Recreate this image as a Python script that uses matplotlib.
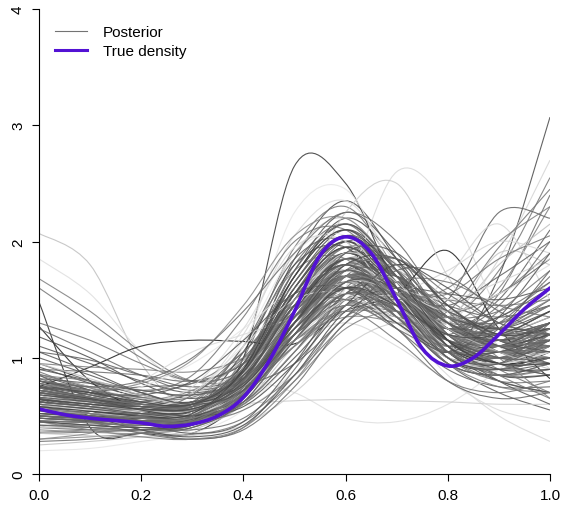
import numpy as np
import matplotlib
matplotlib.use("Agg")
import matplotlib.pyplot as plt
from matplotlib.path import Path
from matplotlib.patches import PathPatch
from matplotlib.lines import Line2D

plt.rcParams['font.family'] = ['Liberation Sans', 'DejaVu Sans']

x_post = [0.0, 0.1, 0.2, 0.3, 0.4, 0.5, 0.6, 0.7, 0.8, 0.9, 1.0]

posterior = [
    [0.60, 0.55, 0.50, 0.48, 0.75, 1.45, 1.85, 1.55, 1.10, 1.05, 1.25],
    [0.75, 0.65, 0.55, 0.52, 0.80, 1.50, 1.90, 1.60, 1.20, 1.15, 1.30],
    [0.50, 0.48, 0.45, 0.45, 0.70, 1.35, 1.75, 1.45, 1.05, 0.95, 1.10],
    [0.85, 0.75, 0.62, 0.55, 0.78, 1.40, 1.80, 1.55, 1.25, 1.20, 1.35],
    [0.65, 0.58, 0.52, 0.50, 0.85, 1.60, 2.05, 1.70, 1.20, 1.00, 1.05],
    [0.40, 0.40, 0.42, 0.45, 0.70, 1.30, 1.70, 1.50, 1.15, 1.10, 1.25],
    [0.95, 0.80, 0.65, 0.60, 0.80, 1.30, 1.65, 1.50, 1.25, 1.20, 1.40],
    [0.70, 0.62, 0.55, 0.55, 0.90, 1.65, 2.10, 1.75, 1.25, 1.10, 1.15],
    [0.55, 0.52, 0.50, 0.52, 0.82, 1.50, 1.95, 1.70, 1.30, 1.20, 1.30],
    [0.80, 0.70, 0.60, 0.58, 0.85, 1.50, 1.85, 1.50, 1.05, 0.90, 0.95],
    [0.62, 0.56, 0.48, 0.46, 0.72, 1.40, 1.90, 1.75, 1.35, 1.25, 1.45],
    [0.30, 0.32, 0.35, 0.40, 0.65, 1.20, 1.60, 1.45, 1.15, 1.05, 1.15],
    [1.00, 0.85, 0.70, 0.62, 0.85, 1.45, 1.80, 1.55, 1.20, 1.05, 1.10],
    [0.72, 0.65, 0.58, 0.56, 0.88, 1.60, 2.00, 1.60, 1.10, 0.95, 1.00],
    [0.58, 0.55, 0.52, 0.55, 0.80, 1.35, 1.65, 1.45, 1.25, 1.30, 1.55],
    [0.45, 0.45, 0.45, 0.48, 0.78, 1.50, 2.00, 1.80, 1.35, 1.15, 1.10],
    [0.88, 0.72, 0.60, 0.55, 0.75, 1.30, 1.70, 1.55, 1.30, 1.35, 1.65],
    [0.66, 0.60, 0.55, 0.58, 0.95, 1.70, 2.20, 1.85, 1.30, 1.10, 1.15],
    [0.50, 0.50, 0.48, 0.50, 0.75, 1.30, 1.65, 1.40, 1.00, 0.90, 1.00],
    [0.78, 0.68, 0.60, 0.60, 0.90, 1.55, 1.90, 1.60, 1.20, 1.10, 1.20],
    [0.35, 0.36, 0.38, 0.42, 0.68, 1.30, 1.80, 1.70, 1.30, 1.10, 1.00],
    [0.92, 0.78, 0.66, 0.62, 0.88, 1.50, 1.85, 1.55, 1.15, 1.00, 1.05],
    [0.60, 0.58, 0.55, 0.56, 0.80, 1.40, 1.80, 1.65, 1.35, 1.30, 1.45],
    [0.70, 0.60, 0.50, 0.47, 0.70, 1.35, 1.85, 1.70, 1.25, 1.05, 1.10],
    [0.55, 0.50, 0.45, 0.45, 0.75, 1.45, 1.90, 1.55, 1.05, 0.85, 0.85],
    [0.82, 0.70, 0.58, 0.54, 0.80, 1.45, 1.90, 1.70, 1.30, 1.20, 1.30],
    [0.48, 0.46, 0.45, 0.50, 0.85, 1.55, 1.95, 1.65, 1.20, 1.05, 1.10],
    [0.68, 0.62, 0.58, 0.60, 0.88, 1.45, 1.75, 1.50, 1.20, 1.20, 1.40],
    [0.40, 0.38, 0.38, 0.42, 0.72, 1.40, 1.85, 1.60, 1.15, 0.95, 0.95],
    [0.75, 0.66, 0.60, 0.62, 0.95, 1.65, 2.05, 1.70, 1.25, 1.15, 1.30],
    [0.65, 0.58, 0.50, 0.50, 0.90, 1.85, 2.35, 1.85, 1.15, 0.85, 0.85],
    [0.55, 0.50, 0.48, 0.52, 1.00, 1.95, 2.30, 1.75, 1.10, 0.95, 1.10],
    [0.70, 0.62, 0.55, 0.58, 1.05, 1.90, 2.20, 1.70, 1.20, 1.10, 1.20],
    [0.85, 0.72, 0.60, 0.55, 0.90, 1.75, 2.25, 1.90, 1.30, 1.05, 1.00],
    [0.50, 0.48, 0.46, 0.50, 0.95, 1.80, 2.15, 1.70, 1.20, 1.10, 1.25],
    [0.62, 0.58, 0.55, 0.58, 0.80, 1.20, 1.45, 1.35, 1.15, 1.10, 1.20],
    [0.45, 0.45, 0.48, 0.55, 0.78, 1.15, 1.40, 1.35, 1.20, 1.15, 1.20],
    [0.80, 0.70, 0.62, 0.62, 0.82, 1.20, 1.50, 1.45, 1.25, 1.15, 1.15],
    [0.70, 0.64, 0.60, 0.62, 0.82, 1.15, 1.35, 1.30, 1.15, 1.05, 1.00],
    [0.55, 0.52, 0.50, 0.52, 0.72, 1.10, 1.40, 1.40, 1.25, 1.20, 1.30],
    [0.60, 0.55, 0.50, 0.55, 1.05, 1.80, 1.95, 1.45, 1.00, 0.95, 1.05],
    [0.70, 0.62, 0.56, 0.62, 1.10, 1.75, 1.85, 1.35, 1.00, 1.00, 1.10],
    [0.50, 0.48, 0.50, 0.60, 1.10, 1.85, 2.00, 1.40, 0.95, 0.85, 0.90],
    [0.65, 0.60, 0.55, 0.52, 0.68, 1.15, 1.70, 1.85, 1.45, 1.15, 1.05],
    [0.55, 0.52, 0.48, 0.48, 0.62, 1.05, 1.60, 1.80, 1.50, 1.25, 1.15],
    [0.78, 0.68, 0.58, 0.55, 0.70, 1.15, 1.65, 1.75, 1.40, 1.20, 1.20],
    [0.62, 0.56, 0.52, 0.52, 0.78, 1.35, 1.70, 1.50, 1.25, 1.50, 2.10],
    [0.70, 0.62, 0.55, 0.55, 0.85, 1.45, 1.75, 1.45, 1.20, 1.55, 2.40],
    [0.50, 0.48, 0.48, 0.50, 0.75, 1.30, 1.65, 1.45, 1.30, 1.60, 2.30],
    [0.80, 0.70, 0.60, 0.58, 0.82, 1.40, 1.80, 1.55, 1.35, 1.75, 2.55],
    [0.58, 0.54, 0.50, 0.50, 0.80, 1.45, 1.80, 1.40, 1.05, 1.70, 3.07],
    [0.65, 0.58, 0.52, 0.52, 0.80, 1.40, 1.75, 1.50, 1.30, 1.85, 2.70],
    [0.60, 0.55, 0.50, 0.52, 0.80, 1.40, 1.70, 1.40, 1.50, 2.25, 2.20],
    [0.72, 0.64, 0.58, 0.58, 0.85, 1.35, 1.60, 1.40, 1.35, 1.80, 2.15],
    [0.55, 0.52, 0.50, 0.52, 0.78, 1.35, 1.70, 1.40, 0.95, 0.70, 0.55],
    [0.40, 0.40, 0.42, 0.48, 0.75, 1.30, 1.60, 1.30, 0.85, 0.50, 0.28],
    [0.65, 0.60, 0.55, 0.55, 0.80, 1.30, 1.60, 1.40, 1.00, 0.80, 0.70],
    [0.48, 0.45, 0.42, 0.45, 0.70, 1.25, 1.55, 1.25, 0.90, 0.75, 0.75],
    [2.07, 1.80, 0.95, 0.55, 0.70, 1.30, 1.70, 1.45, 1.10, 1.00, 1.15],
    [1.85, 1.55, 1.05, 0.75, 0.85, 1.40, 1.80, 1.50, 1.15, 1.05, 1.20],
    [1.68, 1.40, 1.05, 0.80, 0.85, 1.35, 1.75, 1.55, 1.20, 1.10, 1.20],
    [1.60, 1.30, 1.00, 0.80, 0.90, 1.40, 1.80, 1.55, 1.15, 1.00, 1.05],
    [1.48, 0.40, 0.35, 0.35, 0.65, 1.30, 1.75, 1.55, 1.15, 1.05, 1.15],
    [1.27, 0.80, 0.55, 0.50, 0.75, 1.40, 1.85, 1.55, 1.10, 0.95, 1.00],
    [0.75, 0.92, 1.10, 1.15, 1.14, 1.12, 1.40, 1.55, 1.92, 1.25, 0.82],
    [0.45, 0.42, 0.40, 0.45, 1.00, 2.65, 2.50, 1.60, 1.00, 0.90, 1.05],
    [0.55, 0.50, 0.45, 0.45, 0.55, 0.90, 1.60, 2.60, 2.30, 1.40, 0.90],
    [0.65, 0.60, 0.55, 0.55, 0.75, 1.40, 2.25, 2.50, 1.70, 1.10, 0.95],
    [0.70, 0.62, 0.55, 0.60, 1.10, 2.25, 2.45, 1.70, 1.10, 0.95, 1.05],
    [0.85, 0.75, 0.65, 0.70, 1.20, 2.05, 2.35, 1.80, 1.20, 1.05, 1.15],
    [0.50, 0.52, 0.58, 0.68, 0.80, 0.70, 0.48, 0.45, 0.60, 0.90, 1.25],
    [0.40, 0.42, 0.45, 0.50, 0.60, 0.63, 0.64, 0.63, 0.62, 0.60, 0.60],
    [0.20, 0.22, 0.28, 0.35, 0.55, 1.00, 1.40, 1.35, 1.10, 0.95, 0.95],
    [0.25, 0.28, 0.32, 0.38, 0.60, 1.10, 1.45, 1.30, 1.00, 0.90, 0.90],
    [0.60, 0.55, 0.50, 0.50, 0.70, 1.10, 1.30, 1.10, 0.80, 0.55, 0.45],
    [0.58, 0.52, 0.48, 0.48, 0.70, 1.20, 1.45, 1.30, 1.40, 1.95, 2.45],
    [0.60, 0.55, 0.50, 0.50, 0.75, 1.30, 1.60, 1.30, 1.30, 1.90, 1.80],
    [0.60, 0.55, 0.50, 0.52, 0.75, 1.25, 1.50, 1.30, 1.70, 2.15, 1.50],
    [0.66, 0.60, 0.55, 0.55, 0.80, 1.40, 1.80, 1.60, 1.40, 1.55, 1.85],
    [0.52, 0.50, 0.48, 0.50, 0.78, 1.45, 1.85, 1.55, 1.20, 1.30, 1.70],
    [0.74, 0.66, 0.58, 0.56, 0.80, 1.40, 1.75, 1.50, 1.25, 1.35, 1.60],
    [0.60, 0.56, 0.52, 0.52, 0.76, 1.35, 1.75, 1.55, 1.15, 0.90, 0.70],
    [0.42, 0.42, 0.44, 0.48, 0.74, 1.35, 1.80, 1.65, 1.30, 1.00, 0.65],
    [0.68, 0.62, 0.56, 0.54, 0.80, 1.45, 1.90, 1.65, 1.25, 1.25, 1.50],
    [1.25, 1.05, 0.85, 0.72, 0.85, 1.35, 1.70, 1.50, 1.20, 1.10, 1.20],
    [1.10, 0.95, 0.80, 0.70, 0.82, 1.30, 1.70, 1.50, 1.15, 1.05, 1.15],
    [1.30, 1.15, 0.95, 0.80, 0.90, 1.40, 1.75, 1.45, 1.10, 1.05, 1.25],
    [1.05, 0.98, 0.85, 0.75, 0.85, 1.35, 1.75, 1.60, 1.30, 1.20, 1.25],
    [1.18, 1.00, 0.78, 0.65, 0.82, 1.45, 1.90, 1.60, 1.15, 1.00, 1.05],
    [0.50, 0.45, 0.40, 0.38, 0.48, 0.85, 1.35, 1.55, 1.40, 1.20, 1.10],
    [0.45, 0.40, 0.36, 0.34, 0.45, 0.80, 1.25, 1.40, 1.25, 1.10, 1.10],
    [0.35, 0.33, 0.32, 0.33, 0.42, 0.70, 1.10, 1.30, 1.20, 1.05, 1.00],
    [0.90, 0.88, 0.85, 0.80, 0.95, 1.40, 1.70, 1.45, 1.10, 1.00, 1.10],
    [0.95, 0.92, 0.90, 0.88, 1.00, 1.35, 1.60, 1.40, 1.10, 0.95, 0.95],
    [0.62, 0.70, 0.75, 0.78, 0.95, 1.40, 1.70, 1.50, 1.15, 1.05, 1.15],
    [0.40, 0.50, 0.60, 0.70, 0.90, 1.35, 1.65, 1.45, 1.20, 1.20, 1.35],
    [0.30, 0.35, 0.45, 0.60, 0.85, 1.30, 1.60, 1.40, 1.10, 1.00, 1.05],
    [0.85, 0.65, 0.45, 0.35, 0.45, 0.95, 1.55, 1.70, 1.35, 1.05, 0.95],
    [0.75, 0.55, 0.38, 0.30, 0.40, 0.90, 1.50, 1.60, 1.30, 1.10, 1.10],
    [0.65, 0.50, 0.38, 0.32, 0.42, 0.85, 1.40, 1.55, 1.35, 1.25, 1.40],
    [0.55, 0.45, 0.35, 0.30, 0.38, 0.75, 1.30, 1.50, 1.35, 1.20, 1.20],
    [0.45, 0.38, 0.32, 0.30, 0.40, 0.80, 1.35, 1.45, 1.20, 1.05, 1.05],
    [0.70, 0.65, 0.62, 0.70, 1.00, 1.50, 1.70, 1.35, 0.95, 0.85, 0.95],
    [0.80, 0.75, 0.72, 0.78, 1.05, 1.55, 1.75, 1.40, 1.00, 0.90, 1.00],
    [0.55, 0.60, 0.80, 1.05, 1.20, 1.35, 1.55, 1.45, 1.15, 1.00, 1.05],
    [0.60, 0.62, 0.75, 0.95, 1.25, 1.60, 1.75, 1.45, 1.10, 1.00, 1.10],
    [0.50, 0.55, 0.62, 0.72, 0.98, 1.55, 1.95, 1.60, 1.05, 0.85, 0.90],
    [0.68, 0.60, 0.52, 0.50, 0.62, 1.05, 1.55, 1.65, 1.45, 1.35, 1.45],
    [0.72, 0.66, 0.60, 0.58, 0.72, 1.10, 1.50, 1.60, 1.50, 1.45, 1.50],
    [0.58, 0.55, 0.50, 0.48, 0.60, 1.00, 1.45, 1.60, 1.55, 1.50, 1.60],
    [0.62, 0.58, 0.55, 0.55, 0.72, 1.20, 1.65, 1.65, 1.40, 1.55, 1.90],
    [0.48, 0.46, 0.45, 0.48, 0.70, 1.20, 1.60, 1.55, 1.35, 1.40, 1.65],
    [0.90, 0.80, 0.68, 0.62, 0.80, 1.30, 1.70, 1.60, 1.35, 1.25, 1.25],
    [0.38, 0.36, 0.35, 0.40, 0.60, 1.05, 1.45, 1.40, 1.20, 1.15, 1.30],
    [0.58, 0.54, 0.50, 0.50, 0.68, 1.15, 1.55, 1.45, 1.15, 0.95, 0.85],
    [0.52, 0.50, 0.48, 0.52, 0.80, 1.40, 1.80, 1.50, 1.05, 0.80, 0.70],
    [0.65, 0.60, 0.55, 0.55, 0.75, 1.30, 1.75, 1.55, 1.10, 0.85, 0.65],
    [0.75, 0.68, 0.60, 0.60, 0.85, 1.55, 2.00, 1.65, 1.10, 0.80, 0.60],
    [0.60, 0.56, 0.50, 0.48, 0.78, 1.55, 2.05, 1.75, 1.20, 0.95, 0.85],
    [0.55, 0.50, 0.46, 0.48, 0.85, 1.70, 2.15, 1.75, 1.15, 0.95, 1.00],
    [0.72, 0.65, 0.58, 0.58, 0.92, 1.70, 2.10, 1.65, 1.10, 1.00, 1.15],
    [0.68, 0.62, 0.56, 0.55, 0.82, 1.45, 1.80, 1.45, 1.00, 0.95, 1.20],
    [0.80, 0.72, 0.64, 0.60, 0.80, 1.40, 1.85, 1.60, 1.15, 1.00, 1.10],
    [0.58, 0.52, 0.46, 0.45, 0.65, 1.25, 1.80, 1.75, 1.30, 1.05, 1.00],
    [0.50, 0.47, 0.44, 0.45, 0.68, 1.25, 1.70, 1.60, 1.25, 1.10, 1.15],
    [0.62, 0.58, 0.54, 0.55, 0.82, 1.45, 1.85, 1.55, 1.15, 1.10, 1.30],
    [0.70, 0.63, 0.56, 0.55, 0.78, 1.35, 1.75, 1.55, 1.20, 1.15, 1.30],
    [0.45, 0.42, 0.40, 0.42, 0.65, 1.20, 1.65, 1.55, 1.25, 1.15, 1.25],
    [0.78, 0.70, 0.62, 0.60, 0.82, 1.35, 1.70, 1.50, 1.25, 1.25, 1.45],
    [0.56, 0.54, 0.52, 0.55, 0.88, 1.60, 2.00, 1.65, 1.20, 1.10, 1.20],
    [0.64, 0.58, 0.52, 0.52, 0.85, 1.60, 2.05, 1.70, 1.20, 1.05, 1.05],
    [0.74, 0.66, 0.58, 0.56, 0.85, 1.55, 1.95, 1.60, 1.15, 1.05, 1.15],
    [0.52, 0.49, 0.46, 0.47, 0.72, 1.30, 1.70, 1.50, 1.15, 1.10, 1.30],
    [0.86, 0.74, 0.62, 0.58, 0.80, 1.35, 1.75, 1.55, 1.20, 1.10, 1.15],
    [0.60, 0.57, 0.54, 0.56, 0.86, 1.50, 1.85, 1.50, 1.05, 0.95, 1.05],
    [0.46, 0.44, 0.42, 0.44, 0.70, 1.35, 1.80, 1.60, 1.20, 1.00, 0.95],
    [0.68, 0.60, 0.52, 0.50, 0.78, 1.45, 1.90, 1.65, 1.20, 1.05, 1.10],
    [0.60, 0.58, 0.58, 0.68, 1.15, 1.90, 2.05, 1.55, 1.05, 0.95, 1.05],
    [0.55, 0.55, 0.60, 0.75, 1.25, 1.95, 2.00, 1.45, 1.00, 0.95, 1.10],
    [0.70, 0.68, 0.70, 0.85, 1.35, 2.00, 2.10, 1.60, 1.10, 1.00, 1.10],
    [0.75, 0.72, 0.78, 0.98, 1.45, 2.05, 2.20, 1.75, 1.20, 1.05, 1.10],
    [0.80, 0.75, 0.80, 1.00, 1.40, 1.90, 2.25, 2.00, 1.40, 1.10, 1.05],
    [0.55, 0.52, 0.50, 0.52, 0.75, 1.25, 1.50, 1.25, 0.80, 0.65, 0.70],
    [0.62, 0.58, 0.55, 0.55, 0.72, 1.15, 1.40, 1.15, 0.80, 0.70, 0.80],
    [0.48, 0.46, 0.45, 0.48, 0.70, 1.20, 1.55, 1.35, 0.95, 0.75, 0.70],
    [0.70, 0.64, 0.58, 0.58, 0.80, 1.30, 1.60, 1.35, 0.95, 0.85, 0.95],
    [0.60, 0.56, 0.52, 0.52, 0.75, 1.30, 1.70, 1.55, 1.45, 1.70, 2.00],
    [0.55, 0.52, 0.50, 0.52, 0.78, 1.35, 1.75, 1.60, 1.50, 1.65, 1.85],
    [0.66, 0.60, 0.55, 0.55, 0.80, 1.40, 1.80, 1.60, 1.40, 1.55, 1.80],
    [0.72, 0.66, 0.60, 0.58, 0.80, 1.35, 1.70, 1.55, 1.55, 1.85, 2.05],
    [0.62, 0.58, 0.55, 0.55, 0.72, 1.20, 1.55, 1.50, 1.60, 2.00, 2.30],
    [0.58, 0.55, 0.52, 0.52, 0.70, 1.15, 1.50, 1.55, 1.75, 2.00, 1.90],
    [0.60, 0.55, 0.55, 0.70, 1.10, 1.50, 1.55, 1.30, 1.00, 0.90, 1.00],
    [0.75, 0.70, 0.68, 0.80, 1.15, 1.55, 1.60, 1.30, 1.05, 1.05, 1.20],
    [0.50, 0.48, 0.52, 0.68, 1.05, 1.45, 1.50, 1.25, 1.05, 1.10, 1.30],
    [0.65, 0.60, 0.58, 0.62, 0.75, 0.95, 1.35, 1.75, 1.70, 1.40, 1.20],
    [0.55, 0.50, 0.45, 0.45, 0.55, 0.85, 1.30, 1.65, 1.65, 1.45, 1.35],
    [0.72, 0.65, 0.55, 0.50, 0.58, 0.95, 1.45, 1.80, 1.60, 1.30, 1.20],
    [0.85, 0.80, 0.72, 0.68, 0.78, 1.10, 1.45, 1.55, 1.35, 1.30, 1.50],
    [0.42, 0.40, 0.38, 0.40, 0.62, 1.15, 1.55, 1.40, 1.10, 1.25, 1.75],
    [0.58, 0.52, 0.46, 0.44, 0.62, 1.20, 1.70, 1.60, 1.25, 1.45, 2.00],
    [0.66, 0.62, 0.58, 0.60, 0.85, 1.35, 1.60, 1.30, 1.05, 1.35, 1.90],
    [0.78, 0.72, 0.66, 0.66, 0.90, 1.40, 1.65, 1.35, 1.10, 1.40, 1.75],
    [0.48, 0.46, 0.46, 0.50, 0.80, 1.45, 1.85, 1.55, 1.05, 0.95, 1.30],
    [0.36, 0.38, 0.42, 0.50, 0.78, 1.35, 1.70, 1.45, 1.00, 0.90, 1.10],
    [0.28, 0.30, 0.35, 0.45, 0.72, 1.25, 1.60, 1.40, 1.05, 1.00, 1.20],
    [0.95, 0.82, 0.68, 0.60, 0.75, 1.25, 1.65, 1.55, 1.25, 1.05, 0.90],
    [1.05, 0.88, 0.70, 0.60, 0.72, 1.20, 1.65, 1.60, 1.30, 1.10, 0.95],
    [0.82, 0.78, 0.72, 0.68, 0.82, 1.30, 1.75, 1.70, 1.40, 1.25, 1.20],
    [0.68, 0.64, 0.60, 0.60, 0.78, 1.30, 1.80, 1.85, 1.45, 1.20, 1.25],
    [0.54, 0.50, 0.46, 0.46, 0.66, 1.20, 1.75, 1.85, 1.55, 1.30, 1.20],
    [0.62, 0.58, 0.52, 0.50, 0.70, 1.30, 1.90, 1.90, 1.45, 1.15, 1.05],
    [0.72, 0.66, 0.60, 0.60, 0.88, 1.50, 1.95, 1.80, 1.35, 1.15, 1.10],
    [0.58, 0.54, 0.50, 0.52, 0.90, 1.70, 2.10, 1.70, 1.15, 0.95, 0.95],
    [0.64, 0.60, 0.56, 0.58, 0.95, 1.75, 2.15, 1.75, 1.20, 1.00, 1.00],
    [0.50, 0.48, 0.46, 0.50, 0.88, 1.65, 2.05, 1.70, 1.20, 1.05, 1.10],
    [0.76, 0.70, 0.62, 0.60, 0.88, 1.55, 1.95, 1.60, 1.10, 0.90, 0.90],
    [0.46, 0.44, 0.42, 0.45, 0.75, 1.40, 1.80, 1.50, 1.00, 0.80, 0.80],
    [0.60, 0.56, 0.52, 0.54, 0.82, 1.45, 1.80, 1.45, 1.00, 0.90, 1.00],
    [0.70, 0.64, 0.58, 0.56, 0.78, 1.35, 1.75, 1.50, 1.05, 0.95, 1.15],
    [0.56, 0.52, 0.48, 0.48, 0.70, 1.25, 1.70, 1.55, 1.20, 1.10, 1.25],
    [0.64, 0.60, 0.56, 0.56, 0.76, 1.25, 1.60, 1.45, 1.20, 1.20, 1.40],
]

# grey level of each draw (0 = black, 1 = white)
shade = [
    0.45, 0.35, 0.55, 0.40, 0.30, 0.60, 0.45, 0.35, 0.50, 0.40,
    0.55, 0.65, 0.40, 0.30, 0.50, 0.45, 0.55, 0.35, 0.60, 0.40,
    0.50, 0.35, 0.45, 0.55, 0.40, 0.50, 0.30, 0.60, 0.45, 0.40,
    0.35, 0.55, 0.70, 0.40, 0.50, 0.45, 0.55, 0.40, 0.60, 0.50,
    0.35, 0.60, 0.45, 0.40, 0.55, 0.65, 0.45, 0.50, 0.60, 0.55,
    0.35, 0.78, 0.45, 0.70, 0.40, 0.80, 0.55, 0.45, 0.70, 0.82,
    0.60, 0.55, 0.20, 0.15, 0.12, 0.25, 0.80, 0.75, 0.88, 0.80,
    0.82, 0.75, 0.85, 0.70, 0.80, 0.55, 0.72, 0.78, 0.45, 0.50,
    0.40, 0.55, 0.60, 0.45, 0.50, 0.40, 0.55, 0.45, 0.35, 0.50,
    0.60, 0.75, 0.50, 0.60, 0.45, 0.70, 0.65, 0.40, 0.55, 0.35,
    0.50, 0.60, 0.45, 0.55, 0.80, 0.85, 0.65, 0.45, 0.55, 0.40,
    0.60, 0.50, 0.40, 0.65, 0.45, 0.35, 0.55, 0.40, 0.45, 0.30,
    0.50, 0.55, 0.40, 0.60, 0.45, 0.35, 0.50, 0.40, 0.60, 0.35,
    0.45, 0.50, 0.40, 0.55, 0.70, 0.60, 0.82, 0.85, 0.80, 0.55,
    0.65, 0.50, 0.45, 0.55, 0.60, 0.50, 0.45, 0.78, 0.82, 0.55,
    0.60, 0.78, 0.82, 0.40, 0.50, 0.45, 0.55, 0.35, 0.60, 0.45,
    0.50, 0.40, 0.55, 0.45, 0.60, 0.50, 0.70, 0.40, 0.45, 0.35,
    0.50, 0.40, 0.55, 0.30, 0.45, 0.50, 0.35, 0.55, 0.40, 0.45,
    0.60, 0.35, 0.50,
]

# true density, read every 0.05
x_true = [0.00, 0.05, 0.10, 0.15, 0.20, 0.25, 0.30, 0.35, 0.40, 0.45, 0.50,
          0.55, 0.60, 0.65, 0.70, 0.75, 0.80, 0.85, 0.90, 0.95, 1.00]
y_true = [0.56, 0.51, 0.48, 0.46, 0.44, 0.41, 0.43, 0.50, 0.66, 0.97, 1.40,
          1.88, 2.04, 1.90, 1.50, 1.08, 0.93, 1.00, 1.20, 1.42, 1.60]


def smooth_path(xs, ys):
    # catmull-rom through the read points, drawn as cubic bezier segments
    pts = np.column_stack([xs, ys])
    n = len(pts)
    verts = [pts[0]]
    codes = [Path.MOVETO]
    for i in range(n - 1):
        p0 = pts[max(i - 1, 0)]
        p1 = pts[i]
        p2 = pts[i + 1]
        p3 = pts[min(i + 2, n - 1)]
        verts += [p1 + (p2 - p0) / 6, p2 - (p3 - p1) / 6, p2]
        codes += [Path.CURVE4] * 3
    return Path(verts, codes)


def grey(g):
    # darken the bulk a little, keep the faint draws faint
    if g < 0.7:
        return str(round(g * 0.82, 3))
    return str(min(g + 0.05, 0.9))


fig = plt.figure(figsize=(5.64, 5.10), dpi=100)
ax = fig.add_axes([39 / 564, 35 / 510, 511 / 564, 465 / 510])

for ys, g in zip(posterior, shade):
    ax.add_patch(PathPatch(smooth_path(x_post, ys), fill=False,
                           edgecolor=grey(g), lw=0.8, alpha=0.85))

ax.add_patch(PathPatch(smooth_path(x_true, y_true), fill=False,
                       edgecolor='#5312D4', lw=2.6, capstyle='round'))

ax.set_xlim(0, 1)
ax.set_ylim(0, 4)
ax.set_xticks([0, 0.2, 0.4, 0.6, 0.8, 1.0])
ax.set_xticklabels(['0.0', '0.2', '0.4', '0.6', '0.8', '1.0'])
ax.set_yticks([0, 1, 2, 3, 4])
for s in ['top', 'right']:
    ax.spines[s].set_visible(False)
ax.tick_params(labelsize=11, length=5, width=0.8, pad=5)
plt.setp(ax.get_yticklabels(), rotation=90, va='center')

handles = [Line2D([], [], color='0.45', lw=0.8),
           Line2D([], [], color='#5312D4', lw=2.2)]
ax.legend(handles, ['Posterior', 'True density'], loc='upper left',
          bbox_to_anchor=(0.0, 1.0), frameon=False, fontsize=11,
          handlelength=2.1, handletextpad=1.05, labelspacing=0.35,
          borderaxespad=0.65)

fig.savefig('out.png', dpi=100)
